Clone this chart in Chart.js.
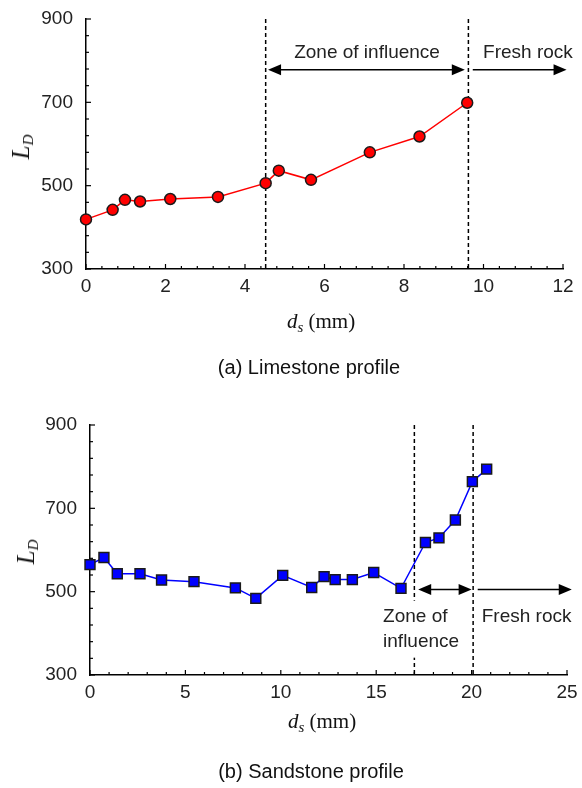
<!DOCTYPE html>
<html>
<head>
<meta charset="utf-8">
<script src="https://cdn.jsdelivr.net/npm/chart.js@4"></script>
<style>
  body { margin: 0; background: #fff; width: 582px; height: 788px; position: relative; overflow: hidden; }
  .box { position: absolute; left: 0; width: 582px; height: 394px; }
  .lbl { position: absolute; transform: translate(-50%, -50%); white-space: nowrap; color: #111; }
  .serif { font-family: "Liberation Serif", "DejaVu Serif", serif; font-size: 21px; }
  .cap { font-family: "Liberation Sans", Arial, sans-serif; font-size: 20px; }
  .yt { transform: translate(-50%, -50%) rotate(-90deg); font-size: 25px; }
  sub { font-size: 15px; vertical-align: -4px; }
</style>
</head>
<body>
<div class="box" style="top:0"><canvas id="chartA" width="582" height="394"></canvas></div>
<div class="box" style="top:394px"><canvas id="chartB" width="582" height="394"></canvas></div>

<div class="lbl serif yt" style="left:22px; top:147px"><i>L</i><sub><i>D</i></sub></div>
<div class="lbl serif" style="left:321px; top:322px"><i>d</i><sub><i>s</i></sub> (mm)</div>
<div class="lbl cap" style="left:309px; top:367px">(a) Limestone profile</div>

<div class="lbl serif yt" style="left:27px; top:552px"><i>L</i><sub><i>D</i></sub></div>
<div class="lbl serif" style="left:322px; top:722px"><i>d</i><sub><i>s</i></sub> (mm)</div>
<div class="lbl cap" style="left:311px; top:771px">(b) Sandstone profile</div>

<script>
// limestone profile (a)
const dsLime = [0, 0.67, 0.98, 1.36, 2.12, 3.32, 4.52, 4.85, 5.66, 7.14, 8.39, 9.59];
const ldLime = [419, 442, 466, 462, 468, 473, 506, 536, 514, 580, 618, 699];

// sandstone profile (b)
const dsSand = [0, 0.73, 1.43, 2.62, 3.75, 5.45, 7.62, 8.69, 10.1, 11.62, 12.27, 12.85, 13.75, 14.87, 16.3, 17.58, 18.29, 19.15, 20.04, 20.79];
const ldSand = [565, 582, 543, 543, 528, 524, 509, 484, 539, 510, 536, 529, 529, 546, 508, 618, 629, 672, 764, 794];

// zone boundaries (mm)
const zoneLime = [4.52, 9.62];
const zoneSand = [17.0, 20.08];

const tickFont = { family: "'Liberation Sans', Arial, sans-serif", size: 19 };

function toPoints(xs, ys) {
  return xs.map((x, i) => ({ x: x, y: ys[i] }));
}

function arrowHead(ctx, x, y, dir) {
  ctx.beginPath();
  ctx.moveTo(x, y);
  ctx.lineTo(x - dir * 13, y - 5.5);
  ctx.lineTo(x - dir * 13, y + 5.5);
  ctx.closePath();
  ctx.fill();
}

// draws inward ticks, dashed zone lines, arrows and zone labels
const decor = {
  id: 'decor',
  beforeDatasetsDraw(chart, args, opts) {
    const ctx = chart.ctx;
    const xs = chart.scales.x, ys = chart.scales.y;
    const area = chart.chartArea;
    ctx.save();
    ctx.strokeStyle = '#000';
    ctx.fillStyle = '#000';

    // ticks
    ctx.lineWidth = 1.2;
    const nx = Math.round((xs.max - xs.min) / opts.minorX);
    for (let i = 0; i <= nx; i++) {
      const v = xs.min + i * opts.minorX;
      const px = xs.getPixelForValue(v);
      const major = Math.abs(v / opts.majorX - Math.round(v / opts.majorX)) < 1e-6;
      ctx.beginPath();
      ctx.moveTo(px, area.bottom);
      ctx.lineTo(px, area.bottom - (major ? 5 : 3));
      ctx.stroke();
    }
    const ny = Math.round((ys.max - ys.min) / opts.minorY);
    for (let i = 0; i <= ny; i++) {
      const v = ys.min + i * opts.minorY;
      const py = ys.getPixelForValue(v);
      const major = (v - ys.min) % opts.majorY === 0;
      ctx.beginPath();
      ctx.moveTo(area.left, py);
      ctx.lineTo(area.left + (major ? 5 : 3), py);
      ctx.stroke();
    }

    // dashed boundaries
    ctx.lineWidth = 1.5;
    ctx.setLineDash([4, 3]);
    opts.vlines.forEach(v => {
      const px = xs.getPixelForValue(v);
      ctx.beginPath();
      ctx.moveTo(px, area.top);
      ctx.lineTo(px, area.bottom);
      ctx.stroke();
    });
    ctx.setLineDash([]);

    // arrows
    opts.arrows.forEach(a => {
      const x1 = xs.getPixelForValue(a.from), x2 = xs.getPixelForValue(a.to);
      const py = ys.getPixelForValue(a.y);
      ctx.beginPath();
      ctx.moveTo(x1 + (a.both ? 6 : 0), py);
      ctx.lineTo(x2 - 6, py);
      ctx.stroke();
      arrowHead(ctx, x2, py, 1);
      if (a.both) arrowHead(ctx, x1, py, -1);
    });

    // labels
    ctx.font = "19px 'Liberation Sans', Arial, sans-serif";
    ctx.textBaseline = 'middle';
    opts.texts.forEach(t => {
      const px = xs.getPixelForValue(t.x), py = ys.getPixelForValue(t.y);
      ctx.textAlign = t.align || 'left';
      if (t.clear) {
        const w = ctx.measureText(t.text).width;
        const left = t.align === 'center' ? px - w / 2 : px;
        ctx.fillStyle = '#fff';
        ctx.fillRect(left - 2, py - 16, w + 4, 32);
      }
      ctx.fillStyle = '#222';
      ctx.fillText(t.text, px, py);
    });
    ctx.restore();
  }
};

function makeChart(id, xs, ys, opt) {
  return new Chart(document.getElementById(id), {
    type: 'line',
    data: {
      datasets: [{
        data: toPoints(xs, ys),
        borderColor: opt.color,
        borderWidth: 1.5,
        backgroundColor: opt.color,
        pointBackgroundColor: opt.color,
        pointBorderColor: '#1a1a1a',
        pointBorderWidth: 1.5,
        pointStyle: opt.pointStyle,
        pointRadius: opt.pointRadius,
        pointHoverRadius: opt.pointRadius,
        clip: false,
        tension: 0
      }]
    },
    options: {
      responsive: false,
      animation: false,
      layout: { padding: opt.padding },
      plugins: {
        legend: { display: false },
        tooltip: { enabled: false },
        decor: opt.decor
      },
      scales: {
        x: {
          type: 'linear',
          min: 0,
          max: opt.xMax,
          grid: { display: false },
          border: { display: true, color: '#000', width: 1.5 },
          ticks: { stepSize: opt.decor.majorX, font: tickFont, color: '#222', padding: -2, maxRotation: 0 },
          afterFit: s => { s.height = opt.xHeight; }
        },
        y: {
          min: 300,
          max: 900,
          grid: { display: false },
          border: { display: true, color: '#000', width: 1.5 },
          ticks: { stepSize: 200, font: tickFont, color: '#222', padding: 5 },
          afterFit: s => { s.width = opt.yWidth; }
        }
      }
    },
    plugins: [decor]
  });
}

makeChart('chartA', dsLime, ldLime, {
  color: '#ff0000',
  pointStyle: 'circle',
  pointRadius: 5.5,
  xMax: 12,
  padding: { left: 0, right: 19, top: 19, bottom: 0 },
  yWidth: 86,
  xHeight: 125,
  decor: {
    minorX: 0.4, majorX: 2, minorY: 40, majorY: 200,
    vlines: zoneLime,
    arrows: [
      { from: 4.58, to: 9.53, y: 778, both: true },
      { from: 9.73, to: 12.09, y: 778, both: false }
    ],
    texts: [
      { x: 7.07, y: 820, text: 'Zone of influence', align: 'center' },
      { x: 9.99, y: 820, text: 'Fresh rock', align: 'left' }
    ]
  }
});

makeChart('chartB', dsSand, ldSand, {
  color: '#0000ff',
  pointStyle: 'rect',
  pointRadius: 7,
  xMax: 25,
  padding: { left: 0, right: 15, top: 31, bottom: 0 },
  yWidth: 90,
  xHeight: 113,
  decor: {
    minorX: 1, majorX: 5, minorY: 40, majorY: 200,
    vlines: zoneSand,
    arrows: [
      { from: 17.2, to: 20.0, y: 505, both: true },
      { from: 20.32, to: 25.25, y: 505, both: false }
    ],
    texts: [
      { x: 15.36, y: 440, text: 'Zone of', align: 'left', clear: true },
      { x: 15.36, y: 380, text: 'influence', align: 'left', clear: true },
      { x: 20.53, y: 440, text: 'Fresh rock', align: 'left' }
    ]
  }
});
</script>
</body>
</html>
